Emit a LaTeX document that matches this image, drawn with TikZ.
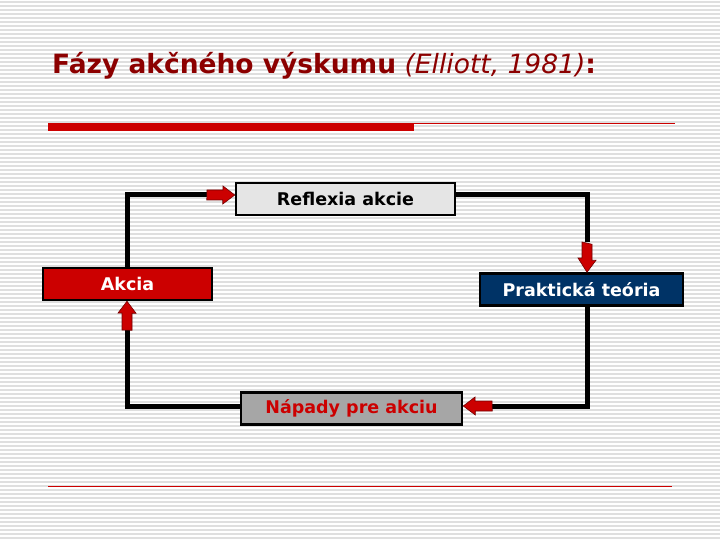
\documentclass[tikz,border=0pt]{standalone}
\usepackage{fontspec}
\setmainfont{DejaVu Sans}
\begin{document}
\begin{tikzpicture}[x=1pt,y=-1pt,
  box/.style={draw=black,line width=2.5pt,minimum height=32pt,inner sep=0pt,font=\bfseries\fontsize{17.5}{20}\selectfont},
  conn/.style={line width=5pt}]
\useasboundingbox (0,0) rectangle (720,540);
\fill[white] (0,0) rectangle (720,540);
\foreach \i in {0,...,134} {\draw[gray!25,line width=1.2pt] (0,\i*4+2) -- (720,\i*4+2);}
\node[anchor=base west,text=red!55!black,inner sep=0pt] (title) at (52,74)
  {\fontsize{26.5}{30}\selectfont\textbf{Fázy akčného výskumu} \textit{(Elliott, 1981)}\textbf{:}};
\fill[red!80!black] (48,123) rectangle (414,131);
\draw[red!80!black,line width=0.6pt] (414,123.5) -- (675,123.5);
\draw[red!80!black,line width=0.6pt] (48,486) -- (672,486);
\node[box,fill=gray!20,minimum width=219pt] (refl) at (345.5,199) {Reflexia akcie};
\node[box,fill=red!80!black,text=white,minimum width=169pt] (akcia) at (127.5,284) {Akcia};
\node[box,fill={rgb,255:red,0;green,51;blue,102},text=white,minimum width=203pt] (prak) at (581.5,289.5) {Praktická teória};
\node[box,fill=gray!70,text=red!80!black,minimum width=221pt] (nap) at (351.5,408.5) {Nápady pre akciu};
\coordinate (a1) at (207,195);
\coordinate (a2) at (587,242);
\coordinate (a3) at (492,406);
\coordinate (a4) at (127,330);
\draw[conn] (akcia.north -| a4) |- (a1);
\draw[conn] (refl.east |- a1) -| (a2);
\draw[conn] (a2 |- prak.south) |- (a3);
\draw[conn] (nap.west |- a3) -| (a4);
\tikzset{blk/.style={fill=red!80!black,draw=red!45!black,line width=0.6pt}}
\draw[blk] (a1) ++(0,-5) -- ++(16,0) -- ++(0,-4) -- (refl.west |- a1) -- ++(-12,9) -- ++(0,-4) -- ++(-16,0) -- cycle;
\draw[blk] (a2) ++(-5,0) -- ++(0,16) -- ++(-4,0) -- (a2 |- prak.north) -- ++(9,-12) -- ++(-4,0) -- ++(0,-16) -- cycle;
\draw[blk] (a3) ++(0,-5) -- ++(-17,0) -- ++(0,-4) -- (nap.east |- a3) -- ++(12,9) -- ++(0,-4) -- ++(17,0) -- cycle;
\draw[blk] (a4) ++(-5,0) -- ++(0,-17) -- ++(-4,0) -- (a4 |- akcia.south) -- ++(9,12) -- ++(-4,0) -- ++(0,17) -- cycle;
\end{tikzpicture}
\end{document}
